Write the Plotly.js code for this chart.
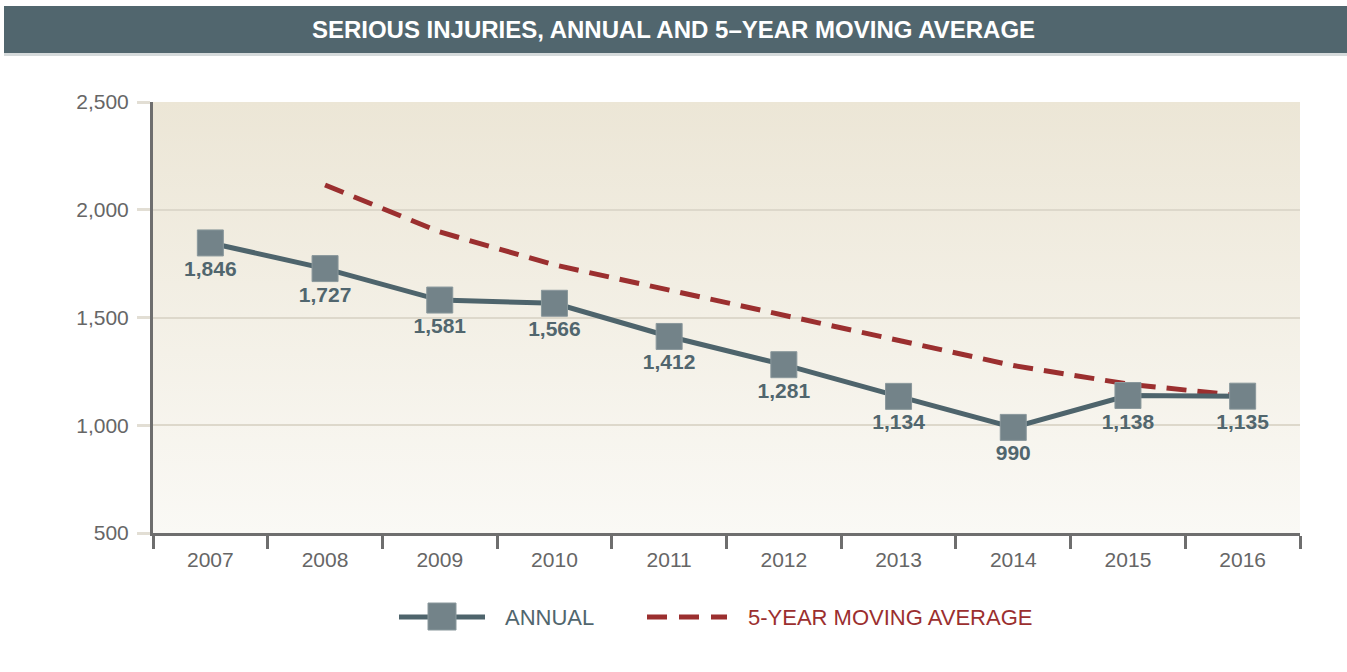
<!DOCTYPE html>
<html><head><meta charset="utf-8">
<script src="https://cdn.plot.ly/plotly-3.0.1.min.js"></script>
<style>html,body{margin:0;padding:0;background:#fff;}#chart{width:1347px;height:672px;}</style>
</head><body><div id="chart"></div>
<script>
var years = ['2007','2008','2009','2010','2011','2012','2013','2014','2015','2016'];
var annual = [1846,1727,1581,1566,1412,1281,1134,990,1138,1135];
var annualLabels = ['1,846','1,727','1,581','1,566','1,412','1,281','1,134','990','1,138','1,135'];
var avgYears = ['2008','2009','2010','2011','2012','2013','2014','2015','2016'];
var movingAvg = [2115,1897,1744,1626,1513,1395,1277,1191,1136];
var yTicks = [500,1000,1500,2000,2500];
var yTickLabels = ['500','1,000','1,500','2,000','2,500'];

var W=1347,H=672,L=153,R=47,T=102,B=139;
var PW=W-L-R, PH=H-T-B;
function px(x){return (x-L)/PW;}
function py(y){return (H-B-y)/PH;}

var NARROW = '"Liberation Sans Narrow", "Arial Narrow", "Liberation Sans", Arial, sans-serif';
var BOLD = '"Liberation Sans", Arial, sans-serif';
var slate='#4E646C', markerC='#738389', red='#9B2F2F';

var grad = "<svg xmlns='http://www.w3.org/2000/svg' width='10' height='100' preserveAspectRatio='none'><defs><linearGradient id='g' x1='0' y1='0' x2='0' y2='1'><stop offset='0' stop-color='#ECE6D6'/><stop offset='1' stop-color='#FAF9F5'/></linearGradient></defs><rect width='10' height='100' fill='url(#g)'/></svg>";

var traces = [
 {x: avgYears, y: movingAvg, type:'scatter', mode:'lines', name:'5-YEAR MOVING AVERAGE',
  line:{color:red, width:5, dash:'20px,11px'}, hoverinfo:'y'},
 {x: years, y: annual, type:'scatter', mode:'lines+markers+text', name:'ANNUAL',
  line:{color:slate, width:5}, marker:{symbol:'square', size:26, color:markerC, line:{color:'#8A989C', width:1}},
  text: annualLabels, textposition:'bottom center', textfont:{family:BOLD, size:21, color:'#51666E', weight:'bold'}, cliponaxis:false, hoverinfo:'y'}
];

var shapes = [
 {type:'rect', xref:'paper', yref:'paper', x0:px(4), x1:px(1350), y0:py(53), y1:py(6), fillcolor:'#51666E', line:{width:0}, layer:'below'},
 {type:'rect', xref:'paper', yref:'paper', x0:px(4), x1:px(1350), y0:py(56), y1:py(53), fillcolor:'#D5DADB', line:{width:0}, layer:'below'},
 // manual legend
 {type:'line', xref:'paper', yref:'paper', x0:px(399), x1:px(485), y0:py(617), y1:py(617), line:{color:slate, width:5}},
 {type:'rect', xref:'paper', yref:'paper', x0:px(428), x1:px(456), y0:py(630), y1:py(603), fillcolor:markerC, line:{color:'#8A989C', width:1}},
 {type:'line', xref:'paper', yref:'paper', x0:px(647), x1:px(727), y0:py(617), y1:py(617), line:{color:red, width:5, dash:'20px,12px'}}
];

var annotations = [
 {xref:'paper', yref:'paper', x:px(503), y:py(617), xanchor:'left', yanchor:'middle', showarrow:false, text:'ANNUAL', font:{family:NARROW, size:22, color:'#51666E'}},
 {xref:'paper', yref:'paper', x:px(746), y:py(617), xanchor:'left', yanchor:'middle', showarrow:false, text:'5-YEAR MOVING AVERAGE', font:{family:NARROW, size:22, color:red}}
];

var layout = {
 width:W, height:H, margin:{l:L, r:R, t:T, b:B},
 paper_bgcolor:'#ffffff', plot_bgcolor:'rgba(0,0,0,0)',
 showlegend:false,
 title:{text:'<b>SERIOUS INJURIES, ANNUAL AND 5–YEAR MOVING AVERAGE</b>', xref:'container', yref:'container', x:0.5, y:1-30/H, xanchor:'center', yanchor:'middle', font:{family:NARROW, size:24, color:'#ffffff'}},
 xaxis:{type:'category', categoryorder:'array', categoryarray:years, range:[-0.5,9.5], tickson:'boundaries', ticks:'outside', ticklen:13, tickwidth:3, tickcolor:'#6E6E6E', showline:true, linecolor:'#6E6E6E', linewidth:3, showgrid:false, zeroline:false, tickfont:{family:NARROW, size:21, color:'#666666'}, ticklabelstandoff:6, fixedrange:true},
 yaxis:{range:[500,2500], tickvals:yTicks, ticktext:yTickLabels, ticks:'outside', ticklen:13, tickwidth:3, tickcolor:'#E2DED4', showline:true, linecolor:'#6E6E6E', linewidth:3, showgrid:true, gridcolor:'#DDD8CB', gridwidth:2, zeroline:false, tickfont:{family:NARROW, size:21, color:'#666666'}, ticklabelstandoff:4, fixedrange:true},
 images:[{source:'data:image/svg+xml;charset=utf-8,'+encodeURIComponent(grad), xref:'paper', yref:'paper', x:0, y:1, sizex:1, sizey:1, xanchor:'left', yanchor:'top', sizing:'stretch', layer:'below'}],
 shapes:shapes, annotations:annotations
};

Plotly.newPlot('chart', traces, layout, {displayModeBar:false, staticPlot:true});
</script></body></html>
